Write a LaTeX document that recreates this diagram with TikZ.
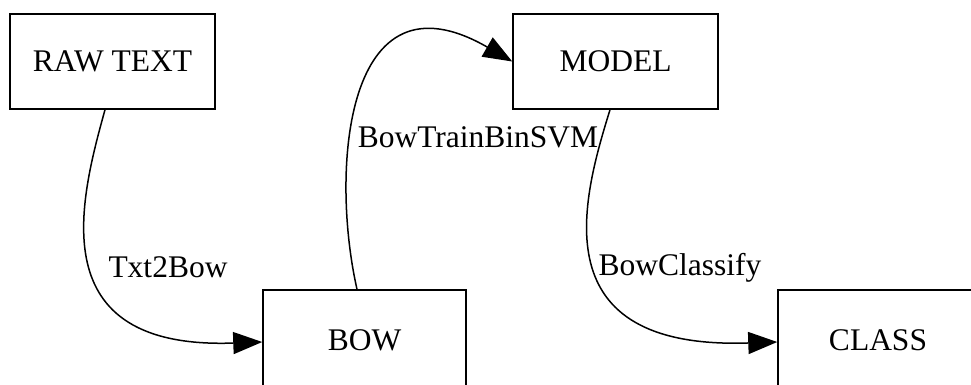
\documentclass[tikz,border=0pt]{standalone}
\usepackage{fontspec}
\setmainfont{Liberation Serif}
\usetikzlibrary{arrows.meta}
\begin{document}
\begin{tikzpicture}[x=1pt,y=-1pt,
  box/.style={draw=black,line width=1.5pt,rectangle,inner sep=0pt,font=\fontsize{31.5}{36}\selectfont},
  edgelbl/.style={font=\fontsize{31.5}{36}\selectfont,inner sep=0pt},
  conn/.style={line width=1.5pt,-{Triangle[length=29pt,width=22pt]}}]
\useasboundingbox (0,0) rectangle (971,384);
\node[box,minimum width=205pt,minimum height=95pt] (raw) at (112.5,61.5) {RAW TEXT};
\node[box,minimum width=205pt,minimum height=95pt] (model) at (615.5,61.5) {MODEL};
\node[box,minimum width=203pt,minimum height=100pt] (bow) at (364.5,340) {BOW};
\node[box,minimum width=200pt,minimum height=100pt] (class) at (878,340) {CLASS};
\node[edgelbl] (l1) at (168,267) {Txt2Bow};
\node[edgelbl] (l2) at (478,137) {BowTrainBinSVM};
\node[edgelbl] (l3) at (680,268) {BowClassify};
\draw[conn] ([xshift=-7.5pt]raw.south) .. controls (80,200) and (40,350) .. ([yshift=-2pt]bow.west);
\draw[conn] ([xshift=-7.5pt]bow.north) .. controls (330,170) and (345,-35) .. (model.west);
\draw[conn] ([xshift=-5.5pt]model.south) .. controls (582,200) and (540,350) .. ([yshift=-2pt]class.west);
\end{tikzpicture}
\end{document}
